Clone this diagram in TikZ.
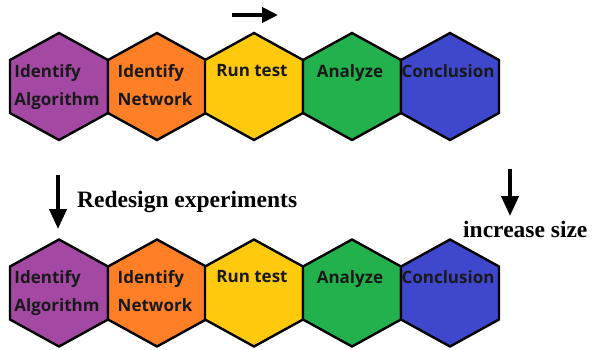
\documentclass[tikz,border=0pt]{standalone}
\usepackage{fontspec}
\setmainfont{Liberation Serif}
\newfontfamily\hexfont{Open Sans}
\usetikzlibrary{arrows.meta}

\definecolor{hexpurple}{RGB}{163, 73, 164}
\definecolor{hexorange}{RGB}{255, 127, 39}
\definecolor{hexyellow}{RGB}{255, 201, 14}
\definecolor{hexgreen}{RGB}{34, 177, 76}
\definecolor{hexblue}{RGB}{63, 72, 204}

\tikzset{
  hexedge/.style={draw=black, line width=2.4pt, line join=miter},
  hexlabel/.style={anchor=north, align=left, inner sep=0pt,
    font=\hexfont\bfseries\fontsize{17}{28}\selectfont, text=black!90},
  flowarrow/.style={line width=4pt, -{Triangle[length=16pt,width=15pt]}},
  downarrow/.style={line width=4pt, -{Triangle[length=20pt,width=17pt]}},
  notetext/.style={anchor=base west, inner sep=0pt,
    font=\bfseries\fontsize{23.5}{28}\selectfont}
}

\begin{document}
\begin{tikzpicture}[x=1pt,y=-1pt]
    \useasboundingbox (0,0) rectangle (593,349);

    % two rows of steps
    \foreach \row/\cy in {top/86.5, bottom/293} {
        \foreach \cx/\col/\txt [count=\i] in {
            59/hexpurple/{Identify\\Algorithm},
            157/hexorange/{Identify\\Network},
            254/hexyellow/{Run test},
            352/hexgreen/{Analyze},
            450/hexblue/{Conclusion}} {
            \draw[hexedge, fill=\col] (\cx,\cy) +(0,-53.5) -- +(49,-26.5) -- +(49,26.5)
                -- +(0,53.5) -- +(-49,26.5) -- +(-49,-26.5) -- cycle;
            \node[hexlabel] (\row-\i) at (\cx-2,\cy-22.5) {\txt};
        }
    }

    % direction of the flow
    \coordinate (flow-start) at (232,15);
    \coordinate (flow-end) at (278,15);
    \draw[flowarrow] (flow-start) -- (flow-end);

    % notes between the rows
    \node[notetext] (redesign) at (77,207) {Redesign experiments};
    \coordinate (redesign-top) at (58,175);
    \coordinate (redesign-tip) at (58,229);
    \draw[downarrow] (redesign-top) -- (redesign-tip);

    \node[notetext] (increase) at (463,237) {increase size};
    \coordinate (increase-top) at (510,169);
    \coordinate (increase-tip) at (510,216);
    \draw[downarrow] (increase-top) -- (increase-tip);
\end{tikzpicture}
\end{document}
